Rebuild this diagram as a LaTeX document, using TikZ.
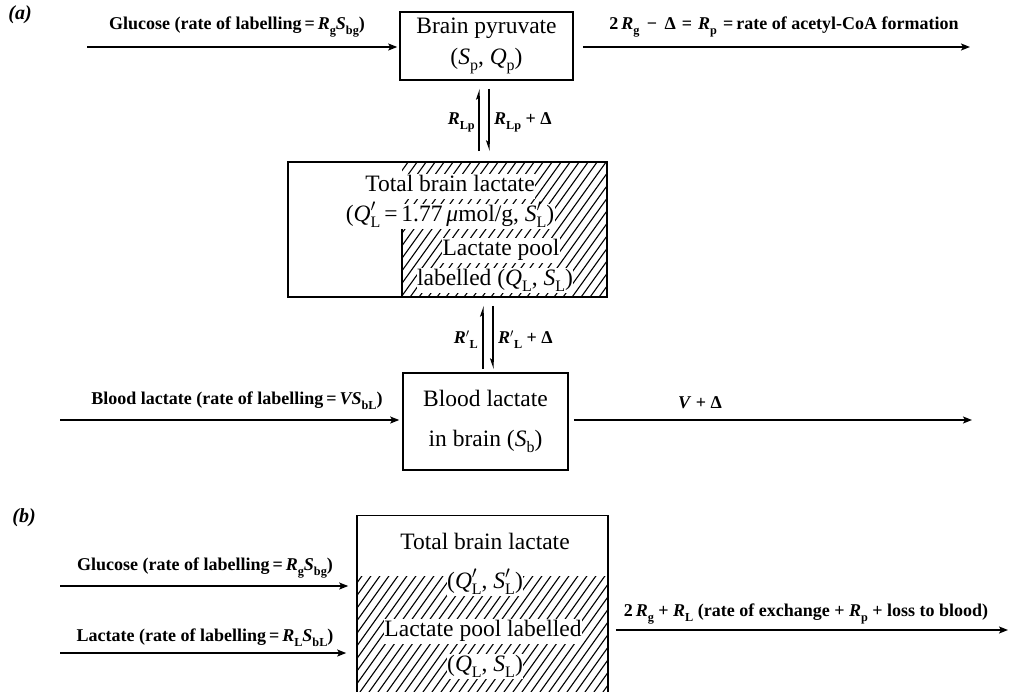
\documentclass[tikz,border=0pt]{standalone}
\usepackage{fontspec}
\setmainfont{Liberation Serif}
\usepackage{graphicx}
\usetikzlibrary{arrows.meta}
\newcommand\lo[1]{\raisebox{-0.28em}{\scalebox{0.68}{#1}}}
\newcommand\prm{\rlap{$^{\prime}$}}
\begin{document}
\begin{tikzpicture}[x=1pt,y=-1pt,
  box/.style={draw, line width=1.6pt, inner sep=0pt},
  btxt/.style={font=\fontsize{23.5}{31}\selectfont, align=center},
  lab/.style={font=\fontsize{18}{20}\selectfont\bfseries, inner sep=1pt},
  flow/.style={line width=1.6pt, -{Stealth[length=9pt,width=7pt,inset=2pt]}},
  hup/.style={line width=1.3pt, -{Stealth[harpoon,length=9pt,width=6pt,inset=2pt]}},
  hdn/.style={line width=1.3pt, -{Stealth[harpoon,swap,length=9pt,width=6pt,inset=2pt]}},
  hatch/.style={line width=1.1pt},
  knock/.style={fill=white, inner sep=0.5pt, text height=17pt, text depth=7pt},
  part/.style={font=\fontsize{20}{24}\selectfont\bfseries\itshape},
]
\clip (0,0) rectangle (1009,691);
\fill[white] (0,0) rectangle (1009,691);

% ---------------- (a) ----------------
\node[part] (la) at (20,15) {(a)};

\node[box, btxt, minimum width=173pt, minimum height=68pt] (pyr) at (486.5,46)
  {Brain pyruvate\\(\textit{S}\lo{p}, \textit{Q}\lo{p})};

\coordinate (gin) at (87,47);
\draw[flow, shorten >=2pt] (gin) -- (gin -| pyr.west);
\node[lab] (glab) at (237,27) {Glucose (rate of labelling\,=\,\textit{R}\lo{g}\textit{S}\lo{bg})};

\coordinate (aout) at (970,47);
\draw[flow, shorten <=9pt] (aout -| pyr.east) -- (aout);
\node[lab] (alab) at (784,27) {2\,\textit{R}\lo{g}\, − \,Δ\,\,=\,\,\textit{R}\lo{p}\,\,=\,rate of acetyl-CoA formation};

% hatch of labelled pool
\begin{scope}
  \clip (402,162) rectangle (607,297);
  \foreach \i in {0,...,36} \draw[hatch] ({300+\i*9},300) -- ++(102,-142);
\end{scope}
\node[box, minimum width=319pt, minimum height=135pt] (lac) at (447.5,229.5) {};
\draw[line width=1.6pt] (402,228) -- (402,297);

\node[btxt, knock] (t1) at (450,186) {Total brain lactate};
\node[btxt, knock] (t2) at (450,216) {(\textit{Q}\prm\lo{L}\,=\,1.77\,\textit{μ}mol/g, \textit{S}\prm\lo{L})};
\node[btxt, knock] (t3) at (501,250) {Lactate pool};
\node[btxt, knock] (t4) at (495,280) {labelled (\textit{Q}\lo{L}, \textit{S}\lo{L})};

\coordinate (x1) at (479,0);
\coordinate (x2) at (489,0);
\draw[hup, shorten <=10pt, shorten >=8pt] (lac.north -| x1) -- (pyr.south -| x1);
\draw[hdn, shorten <=8pt, shorten >=10pt] (pyr.south -| x2) -- (lac.north -| x2);
\node[lab, anchor=east] (rl1) at (476,122) {\textit{R}\lo{Lp}};
\node[lab, anchor=west] (rl2) at (493,122) {\textit{R}\lo{Lp} + Δ};

\node[box, btxt, font=\fontsize{23.5}{40}\selectfont, minimum width=165pt, minimum height=97pt] (bld) at (485.5,421.5)
  {Blood lactate\\in brain (\textit{S}\lo{b})};

\coordinate (x3) at (483,0);
\coordinate (x4) at (493,0);
\draw[hup, shorten <=3pt, shorten >=8pt] (bld.north -| x3) -- (lac.south -| x3);
\draw[hdn, shorten <=8pt, shorten >=3pt] (lac.south -| x4) -- (bld.north -| x4);
\node[lab, anchor=east] (rb1) at (479,340) {\textit{R}$^{\prime}$\lo{L}};
\node[lab, anchor=west] (rb2) at (497,340) {\textit{R}$^{\prime}$\lo{L} + Δ};

\coordinate (bin) at (60,420);
\draw[flow, shorten >=3pt] (bin) -- (bin -| bld.west);
\node[lab] (blab) at (237,401) {Blood lactate (rate of labelling\,=\,\textit{VS}\lo{bL})};

\coordinate (bout) at (972,420);
\draw[flow, shorten <=5pt] (bout -| bld.east) -- (bout);
\node[lab] (vlab) at (700,403) {\textit{V} + Δ};

% ---------------- (b) ----------------
\node[part] (lb) at (24,518) {(b)};

\begin{scope}
  \clip (357,576) rectangle (608,720);
  \foreach \i in {0,...,40} \draw[hatch] ({250+\i*9},720) -- ++(110,-154);
\end{scope}
\node[box, minimum width=251pt, minimum height=205pt] (tot) at (482.5,618) {};

\node[btxt, knock] (u1) at (485,544) {Total brain lactate};
\node[btxt, knock] (u2) at (485,583) {(\textit{Q}\prm\lo{L}, \textit{S}\prm\lo{L})};
\node[btxt, knock] (u3) at (483,631) {Lactate pool labelled};
\node[btxt, knock] (u4) at (485,666) {(\textit{Q}\lo{L}, \textit{S}\lo{L})};

\coordinate (g2) at (60,586);
\draw[flow, shorten >=8pt] (g2) -- (g2 -| tot.west);
\node[lab] (g2lab) at (205,568) {Glucose (rate of labelling\,=\,\textit{R}\lo{g}\textit{S}\lo{bg})};

\coordinate (l2) at (60,653);
\draw[flow, shorten >=10pt] (l2) -- (l2 -| tot.west);
\node[lab] (l2lab) at (205,638) {Lactate (rate of labelling\,=\,\textit{R}\lo{L}\textit{S}\lo{bL})};

\coordinate (o2) at (1008,630);
\draw[flow, shorten <=7pt] (o2 -| tot.east) -- (o2);
\node[lab] (o2lab) at (806,614) {2\,\textit{R}\lo{g} + \textit{R}\lo{L} (rate of exchange + \textit{R}\lo{p} + loss to blood)};
\end{tikzpicture}
\end{document}
